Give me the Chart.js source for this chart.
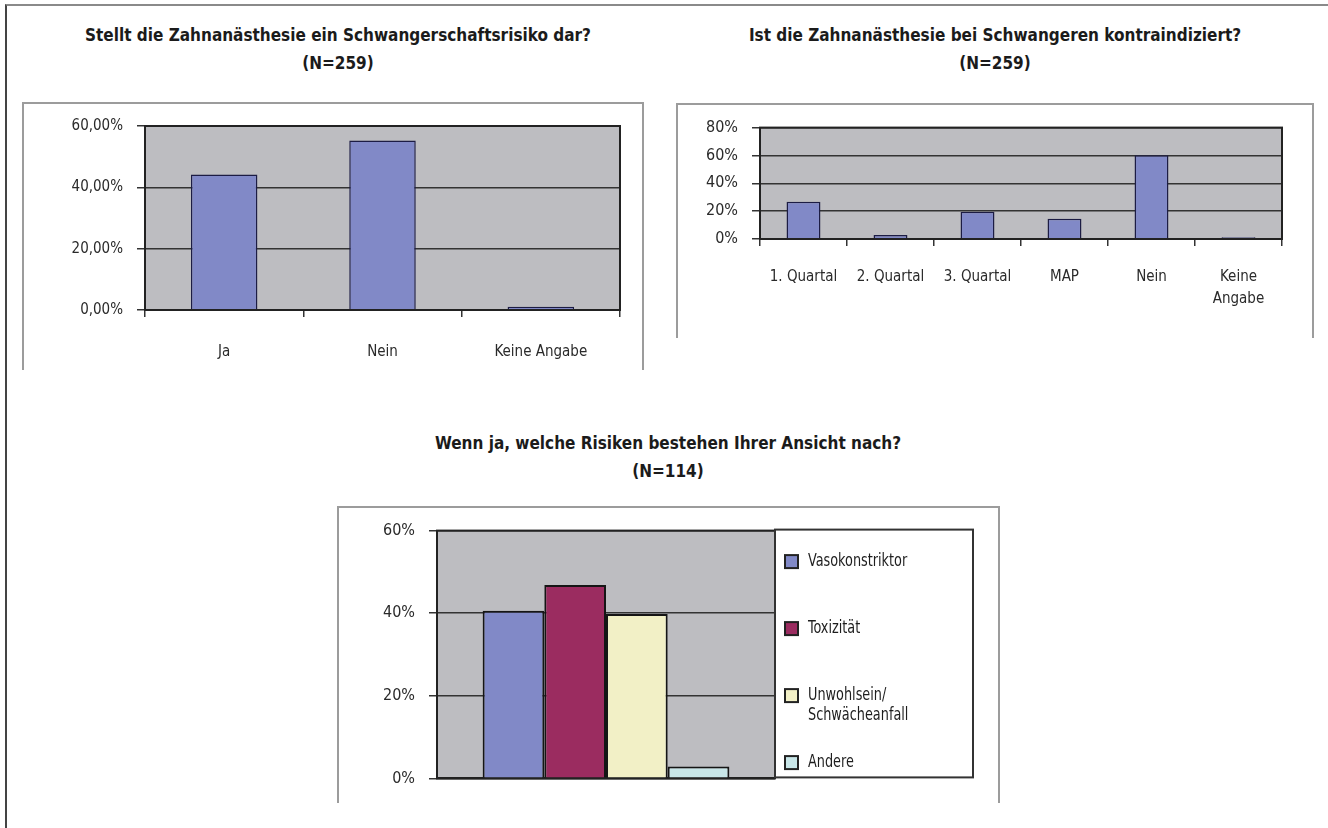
<!DOCTYPE html>
<html><head><meta charset="utf-8">
<script src="https://cdn.jsdelivr.net/npm/chart.js@4/dist/chart.umd.min.js"></script>
<style>
html,body{margin:0;padding:0;background:#fff;width:1328px;height:828px;overflow:hidden;}
body{position:relative;}
.frame{position:absolute;left:5px;top:4px;width:1340px;height:840px;border-left:2px solid #444;border-top:2px solid #8a8a8a;}
.title{position:absolute;width:800px;text-align:center;font-family:'DejaVu Sans Condensed','Liberation Sans Narrow',sans-serif;font-size:17px;font-weight:bold;color:#1b1b1b;line-height:28px;white-space:nowrap;}
.box{position:absolute;border:2px solid #9c9c9c;border-bottom:none;box-sizing:border-box;}
canvas{position:absolute;}
</style></head>
<body>
<div class="frame"></div>
<div class="title" style="left:-62px;top:21px">Stellt die Zahnanästhesie ein Schwangerschaftsrisiko dar?<br>(N=259)</div>
<div class="title" style="left:595px;top:21px">Ist die Zahnanästhesie bei Schwangeren kontraindiziert?<br>(N=259)</div>
<div class="title" style="left:268px;top:429px">Wenn ja, welche Risiken bestehen Ihrer Ansicht nach?<br>(N=114)</div>
<div class="box" style="left:22px;top:102px;width:622px;height:268px"></div>
<div class="box" style="left:676px;top:103px;width:638px;height:235px"></div>
<div class="box" style="left:337px;top:506px;width:663px;height:297px"></div>
<canvas id="c1" width="620" height="267" style="left:23px;top:103px"></canvas>
<canvas id="c2" width="636" height="233" style="left:677px;top:104px"></canvas>
<canvas id="c3" width="661" height="295" style="left:338px;top:507px"></canvas>
<script>
// ---- data ----
const cats1 = ['Ja', 'Nein', 'Keine Angabe'];
const vals1 = [44.2, 55.3, 1.1];
const ticks1 = [0, 20, 40, 60];

const cats2 = ['1. Quartal', '2. Quartal', '3. Quartal', 'MAP', 'Nein', 'Keine Angabe'];
const vals2 = [26.8, 2.9, 19.6, 14.6, 60.2, 1.2];
const ticks2 = [0, 20, 40, 60, 80];

const series3 = ['Vasokonstriktor', 'Toxizität', 'Unwohlsein/ Schwächeanfall', 'Andere'];
const vals3 = [40.6, 46.8, 39.8, 2.9];
const ticks3 = [0, 20, 40, 60];

// ---- styles ----
const NARROW = "'DejaVu Sans Condensed','Liberation Sans Narrow',sans-serif";
const PLOT_BG = '#bdbdc1';
const BAR_BLUE = '#8189c7';
const colors3 = ['#8189c7', '#9b2c60', '#f2f0c6', '#c8e6e8'];
const DARK = '#222';

const plotFrame = {
  id: 'plotFrame',
  beforeDraw(c) {
    const {ctx, chartArea: a} = c;
    ctx.save(); ctx.fillStyle = PLOT_BG; ctx.fillRect(a.left, a.top, a.right - a.left, a.bottom - a.top); ctx.restore();
  },
  afterDraw(c) {
    const {ctx, chartArea: a} = c;
    ctx.save(); ctx.strokeStyle = DARK; ctx.lineWidth = 2;
    ctx.strokeRect(a.left, a.top, a.right - a.left, a.bottom - a.top); ctx.restore();
  }
};

function yAxis(max, ticks, fmt, width, fontSize) {
  return {
    min: 0, max: max,
    afterBuildTicks: s => { s.ticks = ticks.map(v => ({value: v})); },
    afterFit: s => { s.width = width; },
    ticks: {callback: fmt, color: '#2a2a2a', padding: 14, font: {family: NARROW, size: fontSize}},
    grid: {color: '#333', lineWidth: 1.5, tickLength: 8, tickColor: '#333', tickWidth: 1.5},
    border: {color: DARK, width: 2}
  };
}

function xAxis(height, padding, fontSize) {
  return {
    afterFit: s => { s.height = height; },
    ticks: {color: '#2a2a2a', padding: padding, maxRotation: 0, autoSkip: false, font: {family: NARROW, size: fontSize, lineHeight: 1.45}},
    grid: {offset: true, drawOnChartArea: false, tickLength: 7, color: '#333', lineWidth: 1.5},
    border: {color: DARK, width: 2}
  };
}

const base = {responsive: false, animation: false, devicePixelRatio: 1,
  plugins: {legend: {display: false}, tooltip: {enabled: false}}};

// Chart 1
new Chart(document.getElementById('c1'), {
  type: 'bar',
  data: {labels: cats1, datasets: [{data: vals1, backgroundColor: BAR_BLUE, borderColor: '#1c1c44', borderWidth: 1.5,
    categoryPercentage: 1, barPercentage: 0.42}]},
  options: Object.assign({}, base, {
    layout: {padding: {top: 15, right: 23, left: 0, bottom: 0}},
    scales: {
      x: xAxis(60, 24, 15),
      y: yAxis(60, ticks1, v => v.toFixed(2).replace('.', ',') + '%', 122, 15)
    }
  }),
  plugins: [plotFrame]
});

// Chart 2
new Chart(document.getElementById('c2'), {
  type: 'bar',
  data: {labels: cats2.map(l => l === 'Keine Angabe' ? ['Keine', 'Angabe'] : l),
    datasets: [{data: vals2, backgroundColor: BAR_BLUE, borderColor: '#1c1c44', borderWidth: 1.5,
      categoryPercentage: 1, barPercentage: 0.39}]},
  options: Object.assign({}, base, {
    layout: {padding: {top: 13, right: 31, left: 0, bottom: 0}},
    scales: {
      x: xAxis(98, 20, 15),
      y: yAxis(80, ticks2, v => v + '%', 83, 16)
    }
  }),
  plugins: [plotFrame]
});

// Chart 3 legend (drawn from dataset labels/colours)
const legend3 = {
  id: 'legend3',
  afterDraw(c) {
    const {ctx, chartArea: a} = c;
    const L = a.right, T = a.top - 1, R = a.right + 198, B = a.bottom - 1;
    ctx.save();
    ctx.strokeStyle = '#333'; ctx.lineWidth = 2;
    ctx.strokeRect(L, T, R - L, B - T);
    ctx.textBaseline = 'middle';
    c.data.datasets.forEach((ds, i) => {
      const cy = T + 32 + i * 67;
      ctx.fillStyle = ds.backgroundColor; ctx.fillRect(L + 10, cy - 6.5, 13, 13);
      ctx.strokeStyle = '#222'; ctx.lineWidth = 2; ctx.strokeRect(L + 10, cy - 6.5, 13, 13);
      ctx.fillStyle = '#1e1e1e';
      const lines = ds.label.indexOf('/ ') >= 0 ? ds.label.split('/ ').map((p, k, arr) => k < arr.length - 1 ? p + '/' : p) : [ds.label];
      lines.forEach((t, k) => {
        ctx.save();
        ctx.translate(L + 33, cy + k * 20);
        ctx.scale(0.84, 1);
        ctx.font = '17px ' + NARROW;
        ctx.fillText(t, 0, 0);
        ctx.restore();
      });
    });
    ctx.restore();
  }
};

new Chart(document.getElementById('c3'), {
  type: 'bar',
  data: {labels: [''], datasets: series3.map((s, i) => ({label: s, data: [vals3[i]], backgroundColor: colors3[i],
    borderColor: '#151515', borderWidth: 2, categoryPercentage: 0.73, barPercentage: 1}))},
  options: Object.assign({}, base, {
    layout: {padding: {top: 15, right: 224, left: 0, bottom: 0}},
    scales: {
      x: {afterFit: s => { s.height = 15; }, ticks: {display: false}, grid: {display: false}, border: {color: DARK, width: 2}},
      y: yAxis(60, ticks3, v => v + '%', 99, 16)
    }
  }),
  plugins: [plotFrame, legend3]
});
</script>
</body></html>
